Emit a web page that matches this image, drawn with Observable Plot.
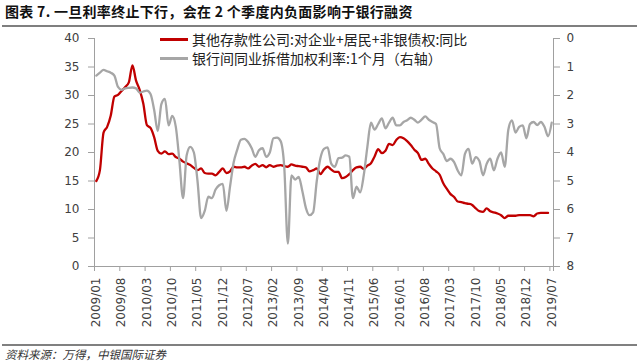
<!DOCTYPE html>
<html><head><meta charset="utf-8">
<script src="https://cdn.jsdelivr.net/npm/d3@7"></script>
<script src="https://cdn.jsdelivr.net/npm/@observablehq/plot@0.6"></script>
<style>
body{margin:0;background:#fff;}
#wrap{position:relative;width:640px;height:363px;overflow:hidden;font-family:"Noto Sans CJK SC",sans-serif;background:#fff;}
#title{position:absolute;left:5px;top:1px;font-size:14px;line-height:20px;font-weight:bold;letter-spacing:0.3px;color:#111;white-space:nowrap;}
#tline{position:absolute;left:2px;width:635px;top:25px;height:2px;background:#7f7f7f;}
#chart{position:absolute;left:0;top:28px;}
.lg{position:absolute;left:160px;height:0;}
.lgline{position:absolute;left:0;width:28px;height:2.5px;}
.lgtext{position:absolute;left:32px;top:-10px;font-size:14px;line-height:20px;color:#222;white-space:nowrap;}
#bline{position:absolute;left:2px;width:635px;top:344px;height:1.5px;background:#808080;}
#source{position:absolute;left:5px;top:346px;font-size:11.5px;line-height:16px;font-style:italic;color:#333;white-space:nowrap;}
</style></head>
<body>
<div id="wrap">
  <div id="title">图表 7. 一旦利率终止下行，会在 2 个季度内负面影响于银行融资</div>
  <div id="tline"></div>
  <div id="chart"></div>
  <div id="legend"></div>
  <div id="bline"></div>
  <div id="source">资料来源：万得，中银国际证券</div>
</div>
<script>
// Category tick labels (every 7 months, 2009/01 .. 2019/07)
const tickLabels = ["2009/01","2009/08","2010/03","2010/10","2011/05","2011/12","2012/07","2013/02","2013/09","2014/04","2014/11","2015/06","2016/01","2016/08","2017/03","2017/10","2018/05","2018/12","2019/07"];
const nMonths = 127; // 2009/01 .. 2019/07

const seriesNames = ["其他存款性公司:对企业+居民+非银债权:同比", "银行间同业拆借加权利率:1个月（右轴）"];
const seriesColors = ["#c00000", "#a6a6a6"];

// Left axis: YoY growth (%) monthly from 2009/01
const claimsYoY = [15.0,16.9,23.5,24.5,26.5,29.8,30.1,30.8,31.5,32.3,35.3,32.6,31.0,28.6,24.8,24.3,22.7,20.3,19.8,20.2,
19.7,19.8,19.2,18.9,18.4,18.1,17.8,17.3,16.9,17.2,16.4,16.3,16.3,16.0,16.6,17.2,16.4,16.7,17.5,17.4,
17.4,17.5,17.2,17.7,18.0,17.5,17.8,17.4,17.8,17.5,17.7,17.8,17.6,17.5,17.9,17.7,17.6,17.5,17.4,16.7,
16.9,17.2,16.2,17.0,17.5,17.0,16.6,16.6,15.5,15.7,16.2,16.9,17.4,17.5,17.1,17.7,18.1,19.3,20.6,19.9,
20.3,21.5,21.3,22.2,22.7,22.5,22.0,21.3,20.5,19.9,18.7,18.9,18.0,17.2,16.7,16.1,14.6,13.6,12.7,12.2,
11.4,11.3,11.1,11.0,10.8,10.2,9.7,9.6,10.2,9.7,9.5,9.3,9.0,8.5,8.9,8.9,8.9,9.0,9.0,9.0,
9.0,8.8,9.3,9.4,9.4,9.4];

// Right axis (reversed): 1M interbank weighted rate (%)
const interbank1M = [1.3,1.2,1.1,1.15,1.2,1.3,1.7,1.8,1.75,1.73,1.72,1.75,1.9,1.86,1.83,1.95,2.5,3.25,2.3,2.12,
3.05,2.72,3.1,4.3,5.6,4.1,3.8,4.0,5.0,6.3,6.05,5.55,5.6,5.3,5.15,5.1,6.05,5.2,4.35,3.9,
3.55,3.52,3.63,3.85,4.15,3.92,3.85,4.15,4.0,3.5,3.48,3.6,4.5,7.2,4.8,4.95,4.86,5.35,5.95,6.2,
6.1,5.0,4.2,3.87,3.82,4.39,4.5,4.2,4.18,4.1,4.15,5.6,5.2,5.4,4.8,3.8,2.95,3.2,3.0,2.8,
3.15,2.95,2.78,3.05,3.05,2.93,2.87,2.78,2.85,2.95,2.85,2.73,2.85,2.93,3.0,3.85,4.05,4.3,4.22,4.34,
4.63,4.8,4.05,3.87,4.39,4.16,4.3,4.8,4.4,4.22,4.63,4.22,4.0,4.5,3.2,2.87,3.3,3.1,3.05,3.5,
3.0,2.93,3.04,2.93,3.1,3.43,2.95];

const leftTicks = [0,5,10,15,20,25,30,35,40];
const rightTicks = [0,1,2,3,4,5,6,7,8];

// map right-axis value onto left scale (0 at top=40, 8 at bottom=0)
const rightToLeft = v => 40 - v * 5;

const tickIdx = tickLabels.map((_, k) => k * 7);
const boundaryIdx = tickIdx.map(i => i - 0.5);
const axisGray = "#a0a0a0";

const redData = claimsYoY.map((v, i) => ({i, v}));
const grayData = interbank1M.map((v, i) => ({i, v}));

const chart = Plot.plot({
  width: 640, height: 304,
  marginLeft: 94, marginRight: 87, marginTop: 10, marginBottom: 66,
  style: {fontFamily: "DejaVu Sans", fontSize: "12px", background: "white", color: "#404040"},
  x: {type: "linear", domain: [-0.5, nMonths - 0.5]},
  y: {domain: [0, 40]},
  marks: [
    Plot.ruleY([0], {stroke: axisGray}),
    Plot.ruleX([-0.5], {stroke: axisGray}),
    Plot.ruleX([nMonths - 0.5], {stroke: axisGray}),
    Plot.axisY({anchor: "left", ticks: leftTicks, tickSize: 6, tickPadding: 9, label: null, stroke: axisGray, fill: "#404040"}),
    Plot.axisY({anchor: "right", ticks: rightTicks.map(rightToLeft), tickFormat: d => String((40 - d) / 5), tickSize: 6, tickPadding: 7, label: null, stroke: axisGray, fill: "#404040"}),
    Plot.axisX({ticks: boundaryIdx.concat([nMonths - 0.5]), tickFormat: () => "", tickSize: 5, label: null, stroke: axisGray}),
    Plot.axisX({ticks: tickIdx, tickFormat: d => tickLabels[Math.round(d / 7)], tickRotate: -90, tickSize: 0, tickPadding: 11, label: null, fill: "#404040"}),
    Plot.lineY(redData, {x: "i", y: "v", stroke: seriesColors[0], strokeWidth: 2.3, curve: "monotone-x"}),
    Plot.lineY(grayData, {x: "i", y: d => rightToLeft(d.v), stroke: seriesColors[1], strokeWidth: 2.3, curve: "monotone-x"})
  ]
});
document.getElementById("chart").appendChild(chart);

// legend (drawn over the plot area as in the reference)
const legend = document.getElementById("legend");
seriesNames.forEach((name, k) => {
  const g = document.createElement("div");
  g.className = "lg";
  g.style.top = (39 + k * 19) + "px";
  const ln = document.createElement("div");
  ln.className = "lgline";
  ln.style.background = seriesColors[k];
  ln.style.top = "-1px";
  const tx = document.createElement("div");
  tx.className = "lgtext";
  tx.textContent = name;
  g.appendChild(ln); g.appendChild(tx);
  legend.appendChild(g);
});
</script>
</body></html>
